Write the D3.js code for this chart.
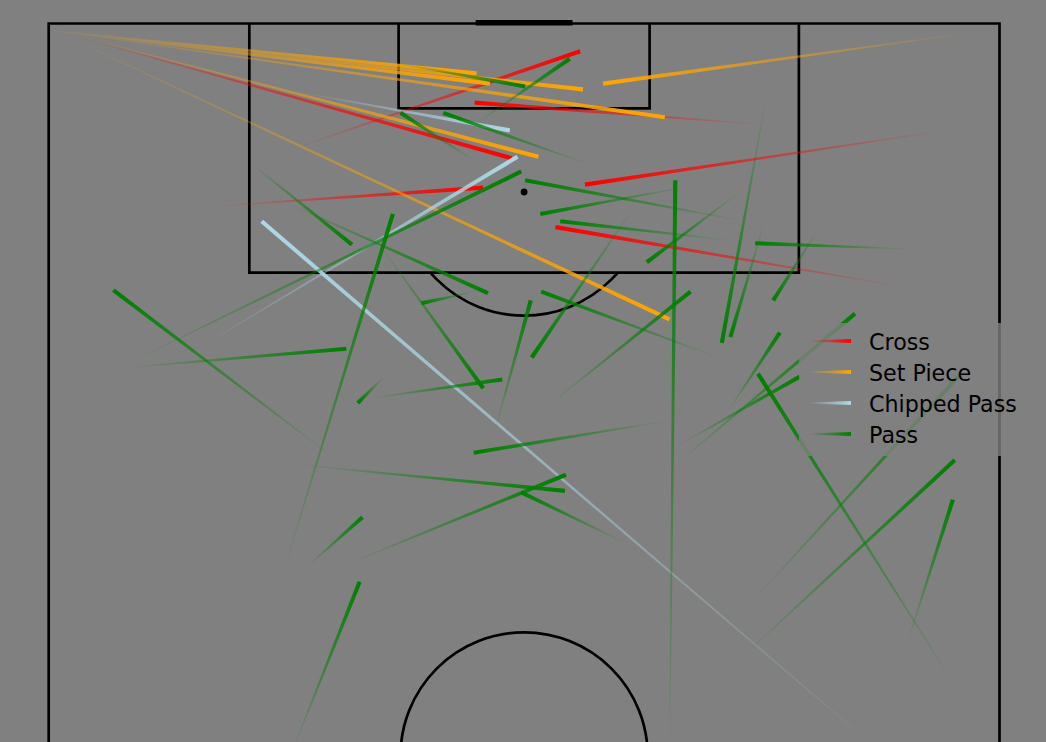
<!DOCTYPE html>
<html><head><meta charset="utf-8">
<script src="https://d3js.org/d3.v7.min.js"></script>
<style>html,body{margin:0;padding:0;background:#808080;overflow:hidden}</style>
</head><body><svg id="chart" width="1046" height="742"></svg>
<script>
// Pass types and their colours
const categories = ["Cross", "Set Piece", "Chipped Pass", "Pass"];
const categoryColors = ["#ff0000", "#ffa500", "#add8e6", "#008000"];

// Passes: [startX, startY, endX, endY] — x across the pitch (0 left .. 100 right),
// y along the pitch (100 = attacking goal line, 50 = halfway line), Opta-style units
const crossPasses = [
  [25.4, 91.4, 55.9, 98.1],
  [0.9, 99.5, 48.7, 90.8],
  [75.3, 93.1, 44.8, 94.6],
  [17.0, 87.5, 45.7, 88.8],
  [94.3, 92.7, 56.4, 89.0],
  [90.1, 82.0, 53.3, 86.1]
];
const setPiecePasses = [
  [0.7, 99.5, 45.0, 96.6],
  [0.7, 99.5, 46.4, 95.9],
  [0.7, 99.5, 56.2, 95.5],
  [0.7, 99.5, 64.8, 93.6],
  [0.9, 99.5, 51.5, 90.9],
  [1.3, 99.3, 65.3, 79.8],
  [97.4, 99.4, 58.3, 95.9]
];
const chippedPasses = [
  [26.4, 95.3, 48.5, 92.7],
  [16.4, 78.1, 49.3, 90.9],
  [87.4, 50.3, 22.4, 86.5]
];
const regularPasses = [
  [44.8, 93.1, 54.8, 97.6],
  [36.4, 97.3, 50.1, 95.7],
  [57.2, 90.3, 41.5, 93.9],
  [44.8, 90.6, 37.0, 93.9],
  [21.0, 90.6, 31.9, 84.9],
  [8.0, 76.7, 49.7, 89.9],
  [73.2, 86.5, 50.1, 89.3],
  [67.5, 88.9, 51.7, 87.0],
  [65.3, 50.0, 65.9, 89.3],
  [71.7, 85.2, 53.8, 86.5],
  [72.9, 88.6, 62.9, 83.7],
  [90.8, 84.6, 74.3, 85.0],
  [80.9, 85.9, 76.2, 81.1],
  [75.5, 95.1, 70.8, 78.2],
  [75.3, 86.5, 71.7, 78.6],
  [66.0, 69.9, 84.8, 80.2],
  [71.4, 73.5, 76.9, 78.9],
  [66.2, 71.2, 79.0, 75.9],
  [95.5, 54.6, 74.6, 76.1],
  [52.7, 74.0, 67.5, 81.7],
  [70.4, 77.2, 51.8, 81.7],
  [65.3, 72.9, 44.7, 70.7],
  [73.0, 56.8, 95.3, 70.2],
  [73.8, 60.4, 95.8, 76.0],
  [90.3, 57.7, 95.1, 67.5],
  [30.1, 70.3, 6.8, 81.8],
  [8.0, 76.5, 31.3, 77.8],
  [24.6, 62.4, 36.2, 87.0],
  [24.9, 87.8, 46.2, 81.6],
  [34.8, 84.9, 45.7, 75.1],
  [44.8, 81.7, 39.2, 80.9],
  [61.7, 87.6, 50.8, 77.2],
  [46.9, 72.1, 50.7, 81.1],
  [35.3, 75.9, 32.5, 74.1],
  [33.6, 74.4, 47.7, 75.7],
  [25.9, 69.9, 54.3, 68.1],
  [31.0, 63.0, 54.4, 69.2],
  [60.8, 64.5, 49.7, 68.0],
  [27.3, 63.0, 33.0, 66.3],
  [25.6, 50.3, 32.7, 61.9]
];
const passSets = [crossPasses, setPiecePasses, chippedPasses, regularPasses];

// Pitch markings (Opta-style units)
const pitchWidth = [0, 100];
const pitchHalf = [50, 100];
const penaltyArea = {x0: 21.1, x1: 78.9, depth: 17};
const sixYardBox = {x0: 36.8, x1: 63.2, depth: 5.8};
const penaltySpotDist = 11.5;
const goalPosts = [45.2, 54.8];
const circleRadiusAcross = 13.0;

const W = 1046, H = 742;
const svg = d3.select("#chart");
const x = d3.scaleLinear().domain(pitchWidth).range([48.7, 999.5]);
const y = d3.scaleLinear().domain(pitchHalf).range([756, 23.5]);
const rPx = x(circleRadiusAcross) - x(0);

svg.append("rect").attr("width", W).attr("height", H).attr("fill", "#808080");

const defs = svg.append("defs");
const pitch = svg.append("g").attr("fill", "none").attr("stroke", "#000").attr("stroke-width", 2.7);

// outline
pitch.append("path").attr("d", d3.line()([
  [x(0), y(50)], [x(0), y(100)], [x(100), y(100)], [x(100), y(50)], [x(0), y(50)]
])).attr("stroke-linejoin", "miter");
// penalty area
pitch.append("path").attr("d", d3.line()([
  [x(penaltyArea.x0), y(100)], [x(penaltyArea.x0), y(100 - penaltyArea.depth)],
  [x(penaltyArea.x1), y(100 - penaltyArea.depth)], [x(penaltyArea.x1), y(100)]
]));
// six yard box
pitch.append("path").attr("d", d3.line()([
  [x(sixYardBox.x0), y(100)], [x(sixYardBox.x0), y(100 - sixYardBox.depth)],
  [x(sixYardBox.x1), y(100 - sixYardBox.depth)], [x(sixYardBox.x1), y(100)]
]));
// goal
pitch.append("line")
  .attr("x1", x(goalPosts[0])).attr("x2", x(goalPosts[1]))
  .attr("y1", y(100) - 0.7).attr("y2", y(100) - 0.7)
  .attr("stroke-width", 5.6).attr("stroke-linecap", "square");
// centre circle
pitch.append("circle").attr("cx", x(50)).attr("cy", y(50)).attr("r", rPx);
// penalty arc (outside the box)
defs.append("clipPath").attr("id", "arcClip").append("rect")
  .attr("x", 0).attr("y", y(100 - penaltyArea.depth)).attr("width", W).attr("height", 200);
pitch.append("circle").attr("cx", x(50)).attr("cy", y(100 - penaltySpotDist)).attr("r", rPx)
  .attr("clip-path", "url(#arcClip)");
// penalty spot
svg.append("circle").attr("cx", x(50)).attr("cy", y(100 - penaltySpotDist)).attr("r", 3.4).attr("fill", "#000");

// comet lines: width and opacity grow from start to end
let gid = 0;
function comet(g, x0, y0, x1, y1, color, w0, w1) {
  const dx = x1 - x0, dy = y1 - y0, L = Math.hypot(dx, dy) || 1;
  const nx = -dy / L, ny = dx / L;
  const id = "cg" + (gid++);
  const grad = defs.append("linearGradient").attr("id", id)
    .attr("gradientUnits", "userSpaceOnUse")
    .attr("x1", x0).attr("y1", y0).attr("x2", x1).attr("y2", y1);
  grad.append("stop").attr("offset", 0).attr("stop-color", color).attr("stop-opacity", 0.01);
  grad.append("stop").attr("offset", 1).attr("stop-color", color).attr("stop-opacity", 1);
  const pts = [
    [x0 + nx * w0 / 2, y0 + ny * w0 / 2],
    [x1 + nx * w1 / 2, y1 + ny * w1 / 2],
    [x1 - nx * w1 / 2, y1 - ny * w1 / 2],
    [x0 - nx * w0 / 2, y0 - ny * w0 / 2]
  ];
  g.append("path").attr("d", d3.line()(pts) + "Z").attr("fill", `url(#${id})`);
}

const linesG = svg.append("g");
passSets.forEach((set, i) => {
  set.forEach(p => comet(linesG, x(p[0]), y(p[1]), x(p[2]), y(p[3]), categoryColors[i], 0.9, 4.2));
});

// legend
const leg = svg.append("g");
leg.append("rect").attr("x", 799).attr("y", 323).attr("width", 226).attr("height", 133)
  .attr("fill", "#808080").attr("fill-opacity", 0.8).attr("rx", 3);
categories.forEach((c, i) => {
  const yy = 341 + 31 * i;
  comet(leg, 808, yy, 851, yy, categoryColors[i], 0.9, 4.2);
  leg.append("text").attr("x", 869).attr("y", 350 + 31 * i)
    .attr("font-family", "DejaVu Sans").attr("font-size", 22.2).attr("fill", "#000").text(c);
});
</script></body></html>
